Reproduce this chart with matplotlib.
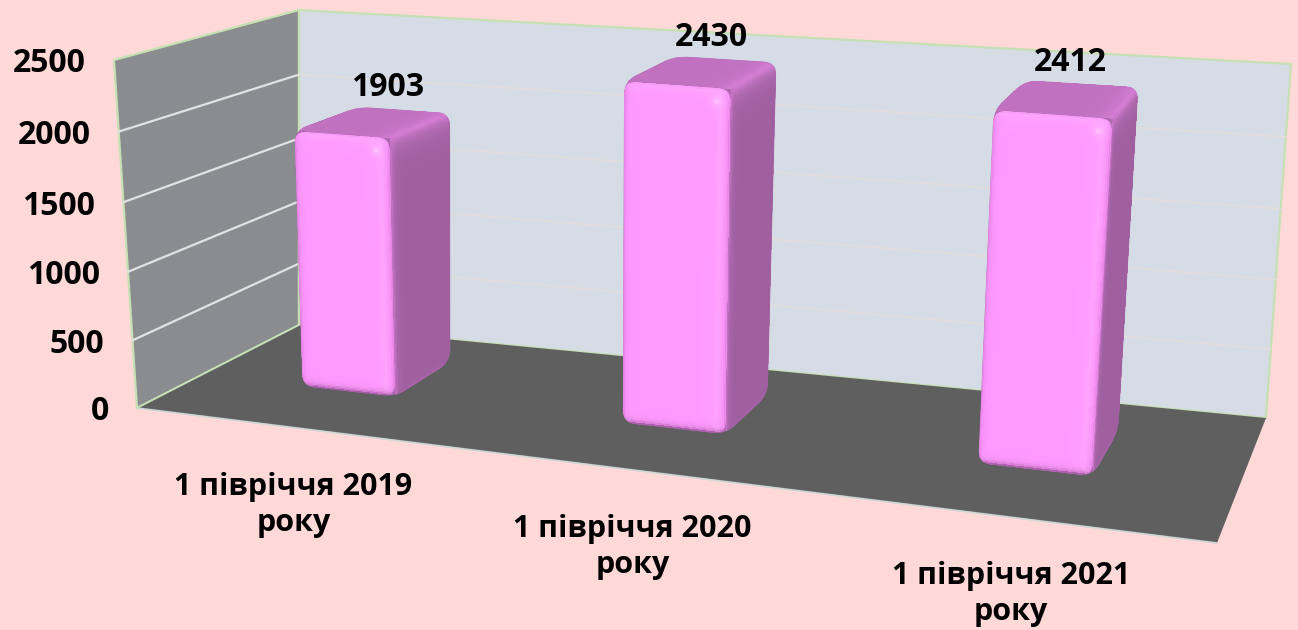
import matplotlib
matplotlib.use('Agg')
import matplotlib.pyplot as plt
from matplotlib.patches import Polygon, PathPatch
from matplotlib.path import Path
import numpy as np

categories = ['1 півріччя 2019\nроку', '1 півріччя 2020\nроку', '1 півріччя 2021\nроку']
values = [1903, 2430, 2412]
y_ticks = [0, 500, 1000, 1500, 2000, 2500]
y_max = 2500

plt.rcParams['font.family'] = ['Open Sans', 'Noto Sans', 'DejaVu Sans']
fsize = 23

# camera fitted on the visible corners of the chart box: (x, y, depth) -> pixel
box3d = [(0, 0, 0), (1, 0, 0), (0, 0, 1), (1, 0, 1), (0, 1, 0), (0, 1, 1), (1, 1, 1)]
box2d = [(137, 408), (1217, 543), (299, 325), (1266, 418), (114, 60), (299, 10), (1291, 64)]

A = []
b = []
for (X, Y, Z), (u, v) in zip(box3d, box2d):
    A.append([X, Y, Z, 1, 0, 0, 0, 0, -u*X, -u*Y, -u*Z])
    A.append([0, 0, 0, 0, X, Y, Z, 1, -v*X, -v*Y, -v*Z])
    b += [u, v]
cam = np.append(np.linalg.lstsq(np.array(A, float), np.array(b, float), rcond=None)[0], 1).reshape(3, 4)


def cam_proj(x, y, d):
    w = cam[2, 0]*x + cam[2, 1]*y + cam[2, 2]*d + cam[2, 3]
    px = (cam[0, 0]*x + cam[0, 1]*y + cam[0, 2]*d + cam[0, 3])/w
    py = (cam[1, 0]*x + cam[1, 1]*y + cam[1, 2]*d + cam[1, 3])/w
    return px, py


# what the camera misses at each corner, spread back over the box
corr = [(p3, p2[0]-cam_proj(*p3)[0], p2[1]-cam_proj(*p3)[1]) for p3, p2 in zip(box3d, box2d)]
corr.append(((1, 1, 0), 0, 20))  # the hidden front top corner sits a bit lower


def proj(x, y, d):
    # y is in chart units
    x, y, d = np.broadcast_arrays(np.asarray(x, float), np.asarray(y, float)/y_max, np.asarray(d, float))
    px, py = cam_proj(x, y, d)
    for (cx, cy, cd), ex, ey in corr:
        k = (x if cx else 1-x)*(y if cy else 1-y)*(d if cd else 1-d)
        px = px + k*ex
        py = py + k*ey
    return px, py


def pt(x, y, d):
    px, py = proj(x, y, d)
    return float(px), float(py)


def rounded(verts, r):
    # closed path with the corners cut by quadratic curves
    verts = np.array(verts, float)
    n = len(verts)
    pts = []
    codes = []
    for i in range(n):
        v = verts[i]
        a = verts[i-1]-v
        c = verts[(i+1) % n]-v
        p1 = v + a/np.hypot(*a)*min(r, np.hypot(*a)/2)
        p2 = v + c/np.hypot(*c)*min(r, np.hypot(*c)/2)
        pts += [p1, v, p2]
        codes += [Path.MOVETO if i == 0 else Path.LINETO, Path.CURVE3, Path.CURVE3]
    pts.append(pts[0])
    codes.append(Path.CLOSEPOLY)
    return Path(np.array(pts), codes)


def ramp(dist, scale):
    return np.exp(-np.clip(dist, 0, None)/scale)


def mix(col, target, t):
    return col + (np.array(target, float)/255 - col)*t[..., None]


def mesh(ax, X, Y, C, clip, z):
    # colours are cell centred, X and Y are the cell corners
    m = ax.pcolormesh(X, Y, C, shading='flat', zorder=z, linewidth=0, antialiased=False)
    m.set_clip_path(clip, ax.transData)


def draw_bar(ax, xc, val, z):
    x0, x1 = xc-bar_w/2, xc+bar_w/2
    d0, d1 = bar_d

    FBL, FBR = pt(x0, 0, d0), pt(x1, 0, d0)
    FTL, FTR = pt(x0, val, d0), pt(x1, val, d0)
    BBR = pt(x1, 0, d1)
    BTL, BTR = pt(x0, val, d1), pt(x1, val, d1)
    outline = rounded([FTL, BTL, BTR, BBR, FBR, FBL], 13)
    front_path = rounded([FTL, FTR, FBR, FBL], 13)

    ax.add_patch(PathPatch(outline, fc='#B068B0', ec='none', zorder=z))

    # top face
    s, t = np.meshgrid(np.linspace(0, 1, 41), np.linspace(0, 1, 41))
    X, Y = proj(x0+(x1-x0)*s, val, d0+(d1-d0)*t)
    sc, tc = (s[:-1, :-1]+s[1:, 1:])/2, (t[:-1, :-1]+t[1:, 1:])/2
    C = np.ones(sc.shape+(3,))*np.array([192, 113, 192])/255
    C = mix(C, (214, 128, 214), ramp((1-sc)*(FTR[0]-FTL[0]), 10))
    mesh(ax, X, Y, C, outline, z+0.1)

    # side face
    s, t = np.meshgrid(np.linspace(0, 1, 41), np.linspace(0, 1, 161))
    X, Y = proj(x1, val*t, d0+(d1-d0)*s)
    sc, tc = (s[:-1, :-1]+s[1:, 1:])/2, (t[:-1, :-1]+t[1:, 1:])/2
    h = FBR[1]-FTR[1]
    C = np.ones(sc.shape+(3,))*np.array([160, 96, 160])/255
    C = mix(C, (212, 126, 212), ramp((1-tc)*h, 9))
    C = mix(C, (205, 118, 205), ramp(sc*70, 3))
    C = mix(C, (176, 100, 176), ramp(tc*h, 2))
    mesh(ax, X, Y, C, outline, z+0.2)

    # front face
    s, t = np.meshgrid(np.linspace(0, 1, 61), np.linspace(0, 1, 181))
    X, Y = proj(x0+(x1-x0)*s, val*t, d0)
    sc, tc = (s[:-1, :-1]+s[1:, 1:])/2, (t[:-1, :-1]+t[1:, 1:])/2
    w = FBR[0]-FBL[0]
    h = FBL[1]-FTL[1]
    C = np.ones(sc.shape+(3,))*np.array([255, 153, 255])/255
    C = mix(C, (255, 172, 255), ramp((1-tc)*h-1, 5))
    C = mix(C, (255, 170, 255), 0.7*ramp(np.abs((1-sc)*w-9), 5))
    C = mix(C, (225, 128, 225), ramp(sc*w, 2.5))
    C = mix(C, (225, 128, 225), ramp((1-sc)*w, 2.5))
    C = mix(C, (245, 145, 245), ramp((1-tc)*h, 1.5))
    C = mix(C, (135, 70, 135), ramp(tc*h, 2.5))
    spot = np.hypot((1-sc)*w-13, (1-tc)*h-13)
    C = mix(C, (255, 205, 255), ramp(spot, 3))
    mesh(ax, X, Y, C, front_path, z+0.3)


bar_w = 0.1
bar_d = (0.37, 0.76)
bar_shift = -0.005

fig = plt.figure(figsize=(12.98, 6.30), dpi=100, facecolor='#FFD9D7')
ax = fig.add_axes([0, 0, 1, 1])
ax.set_xlim(0, 1298)
ax.set_ylim(630, 0)
ax.axis('off')

# walls and floor
wall_edge = '#C6E0B4'
ax.add_patch(Polygon([pt(0, 0, 0), pt(0, y_max, 0), pt(0, y_max, 1), pt(0, 0, 1)],
                     fc='#8A8C8F', ec=wall_edge, lw=1.6, zorder=1))
ax.add_patch(Polygon([pt(0, 0, 1), pt(0, y_max, 1), pt(1, y_max, 1), pt(1, 0, 1)],
                     fc='#D6DCE5', ec=wall_edge, lw=1.6, zorder=1))
for tick in y_ticks[1:-1]:
    ax.plot(*zip(pt(0, tick, 0), pt(0, tick, 1)), color='#E2E2E2', lw=1.6, zorder=2)
    ax.plot(*zip(pt(0, tick, 1), pt(1, tick, 1)), color='#E0DDDC', lw=1.2, zorder=2)
ax.add_patch(Polygon([pt(0, 0, 0), pt(1, 0, 0), pt(1, 0, 1), pt(0, 0, 1)],
                     fc='#5F5F5F', ec='none', zorder=3))
ax.plot(*zip(pt(0, 0, 0), pt(1, 0, 0)), color='#CFD6D8', lw=1.2, zorder=3)
ax.plot(*zip(pt(0, 0, 0), pt(0, 0, 1)), color=wall_edge, lw=1.2, zorder=3)

for i, val in enumerate(values):
    xc = (i+0.5)/len(values)
    draw_bar(ax, xc+bar_shift, val, 4+i)
    tx, ty = pt(xc+bar_shift, val, 0.7)
    ax.text(tx-7, ty-26, str(val), fontsize=fsize, fontweight='bold', color='black',
            ha='center', va='center', zorder=10)
    lx, ly = pt(xc, 0, 0)
    ax.text(lx, ly+77, categories[i], fontsize=22, fontweight='bold', color='black',
            ha='center', va='center', linespacing=1.25, zorder=10)

for tick in y_ticks:
    tx, ty = pt(0, tick, 0)
    ax.text(tx-28, ty+4, str(tick), fontsize=fsize, fontweight='bold', color='black',
            ha='right', va='center', zorder=10)

plt.savefig('out.png', dpi=100, facecolor=fig.get_facecolor())
